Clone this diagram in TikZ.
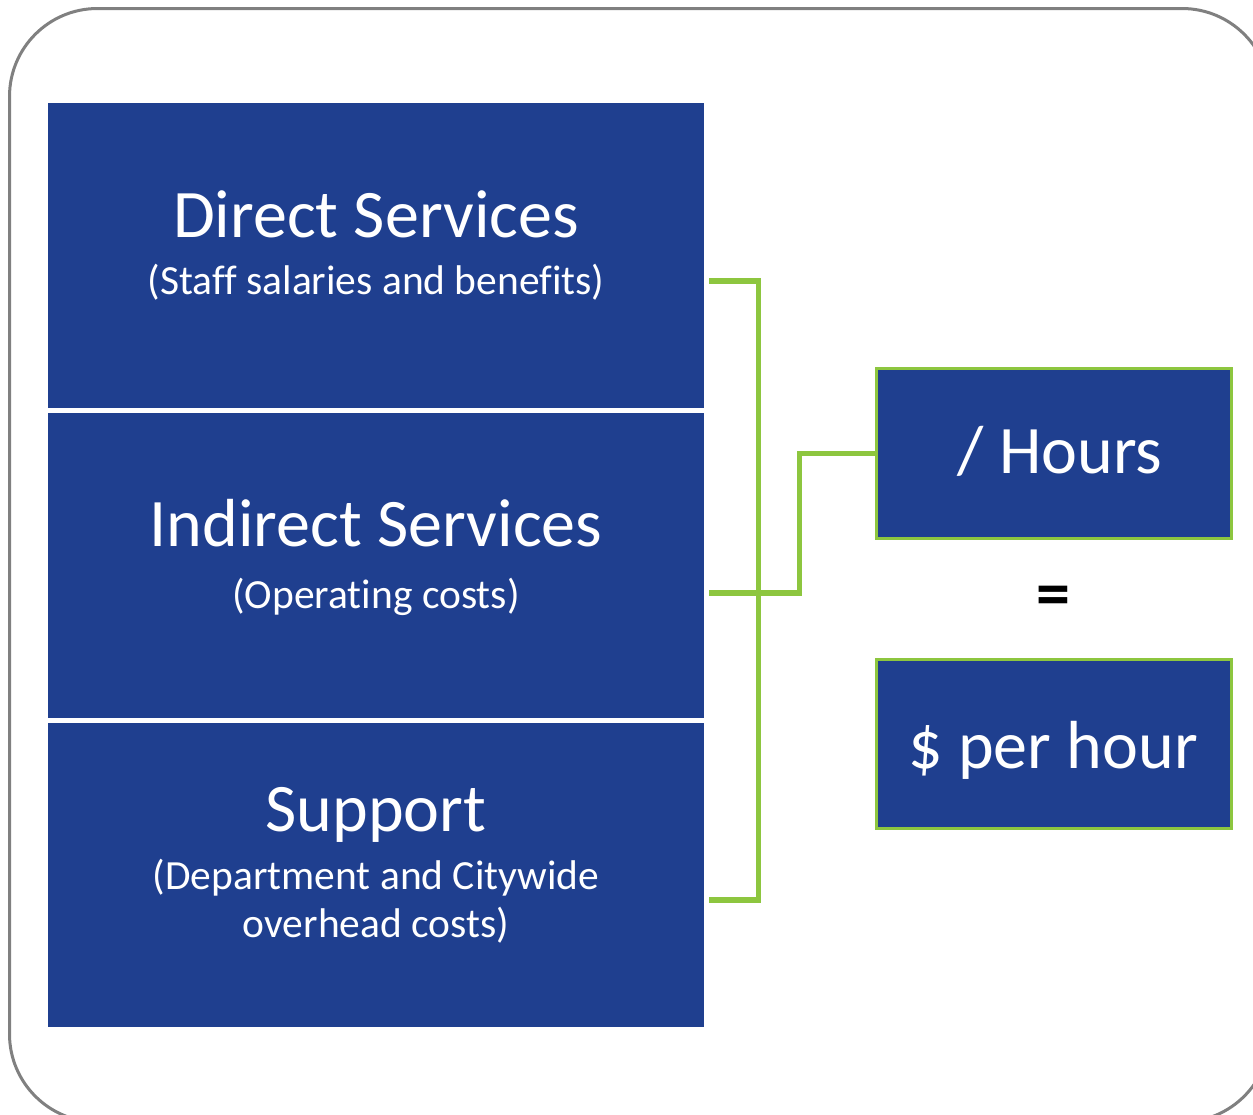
\documentclass[tikz,border=0pt]{standalone}
\usepackage{fontspec}
\setmainfont{Carlito}[Ligatures=NoCommon]
\definecolor{boxblue}{RGB}{31,63,143}
\definecolor{lgreen}{RGB}{141,198,63}
\definecolor{framegray}{RGB}{128,128,128}
\begin{document}
\begin{tikzpicture}[x=1pt,y=-1pt,
  bluebox/.style={fill=boxblue, draw=none, minimum width=656pt, inner sep=0pt, anchor=north west},
  greenbox/.style={fill=boxblue, draw=lgreen, line width=3pt, minimum width=355pt, inner sep=0pt},
  titletext/.style={text=white, font=\fontsize{68}{80}\selectfont, anchor=base, inner sep=0pt},
  subtext/.style={text=white, font=\fontsize{41.5}{48}\selectfont, anchor=base, inner sep=0pt, align=center},
  bigtext/.style={text=white, font=\fontsize{68}{80}\selectfont, anchor=base, inner sep=0pt},
  link/.style={draw=lgreen, line width=5.5pt}]
\useasboundingbox (0,0) rectangle (1253,1114);
\fill[white] (0,0) rectangle (1253,1114);
\begin{scope}
\clip (0,0) rectangle (1253,1114);
\draw[framegray, line width=3pt, rounded corners=88pt] (9.5,8.5) rectangle (1270,1122);
\end{scope}
% left boxes
\node[bluebox, minimum height=305pt] (direct) at (48,103) {};
\node[bluebox, minimum height=305pt] (indirect) at (48,413) {};
\node[bluebox, minimum height=304pt] (support) at (48,723) {};
\node[titletext] (directT) at (376,237) {Direct Services};
\node[subtext] (directS) at (376,294) {(Staff salaries and benefits)};
\node[titletext] (indirectT) at (376,546) {Indirect Services};
\node[subtext] (indirectS) at (376,608) {(Operating costs)};
\node[titletext] (supportT) at (376,831) {Support};
\node[subtext] (supportS) at (376,937) {(Department and Citywide\\overhead costs)};
% right boxes
\node[greenbox, minimum height=170pt] (hours) at (1054,453.5) {};
\node[greenbox, minimum height=169pt] (rate) at (1054,744) {};
\node[bigtext] (hoursT) at (1060,473) {/ Hours};
\node[bigtext] (rateT) at (1053,768) {\$ per hour};
\node[font=\fontsize{68}{80}\selectfont\bfseries, inner sep=0pt] (eq) at (1053,601) {=};
% bracket connectors
\coordinate (b1) at ([shift={(5,25.5)}]direct.east);
\coordinate (b2) at ([shift={(5,27.5)}]indirect.east);
\coordinate (b3) at ([shift={(5,25)}]support.east);
\draw[link] (b1) -- ++(49,0) |- (b3);
\draw[link] (b2) -- ++(90,0) |- (hours.west);
\end{tikzpicture}
\end{document}
